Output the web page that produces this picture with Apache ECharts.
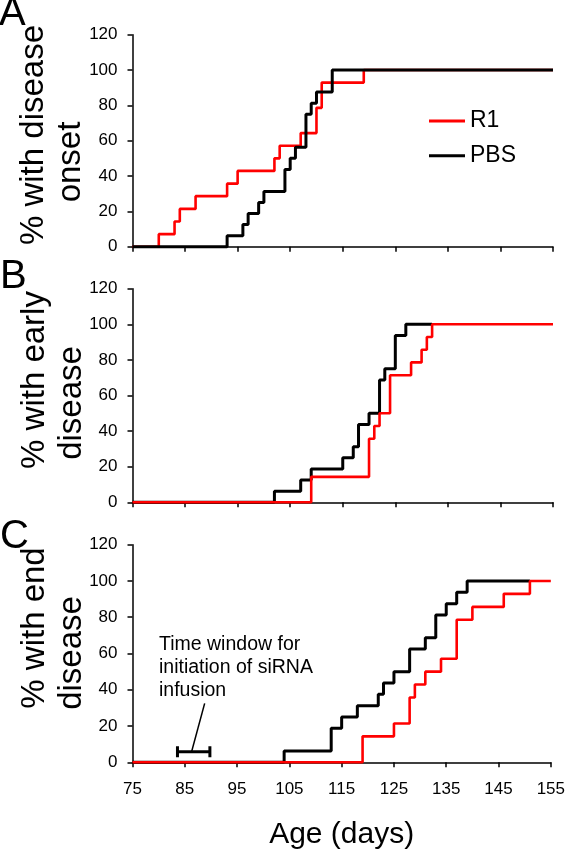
<!DOCTYPE html>
<html><head><meta charset="utf-8">
<script src="https://cdn.jsdelivr.net/npm/echarts@6/dist/echarts.min.js"></script>
<style>html,body{margin:0;padding:0;background:#fff}#c{width:568px;height:852px}</style>
</head><body><div id="c"></div>
<script>
const FONT = '"Liberation Sans", Arial, Helvetica, sans-serif';
const seriesNames = ['R1', 'PBS'];
const panelLabels = ['A', 'B', 'C'];
const yTitles = [['% with disease', 'onset'], ['% with early', 'disease'], ['% with end', 'disease']];
const xTitle = 'Age (days)';
const xMin = 75, xMax = 155, xStep = 10;
const yMin = 0, yMax = 120, yStep = 20;
const annotationText = 'Time window for\ninitiation of siRNA\ninfusion';

// Panel A: disease onset
const aR1Days  = [75, 80, 83, 84, 87, 93, 95, 102, 103, 107, 110, 111, 119, 155];
const aR1Pct   = [0, 7.1, 14.3, 21.4, 28.6, 35.7, 42.9, 50, 57.1, 64.3, 78.6, 92.9, 100, 100];
const aPBSDays = [75, 93, 96, 97, 99, 100, 104, 105, 106, 108, 109, 110, 113, 155];
const aPBSPct  = [0, 6.25, 12.5, 18.75, 25, 31.25, 43.75, 50, 56.25, 75, 81.25, 87.5, 100, 100];
// Panel B: early disease
const bR1Days  = [75, 109, 120, 121, 122, 124, 128, 130, 131, 132, 155];
const bR1Pct   = [0, 14.3, 35.7, 42.9, 50, 71.4, 78.6, 85.7, 92.9, 100, 100];
const bPBSDays = [75, 102, 107, 109, 115, 117, 118, 120, 122, 123, 125, 127, 132];
const bPBSPct  = [0, 6.25, 12.5, 18.75, 25, 31.25, 43.75, 50, 68.75, 75, 93.75, 100, 100];
// Panel C: end disease
const cR1Days  = [75, 119, 125, 128, 129, 131, 134, 137, 140, 146, 151, 155];
const cR1Pct   = [0, 14.3, 21.4, 35.7, 42.9, 50, 57.1, 78.6, 85.7, 92.9, 100, 100];
const cPBSDays = [75, 104, 113, 115, 118, 122, 123, 125, 128, 131, 133, 135, 137, 139, 151];
const cPBSPct  = [0, 6.25, 18.75, 25, 31.25, 37.5, 43.75, 50, 62.5, 68.75, 81.25, 87.5, 93.75, 100, 100];
// Infusion window annotation (days, %)
const windowStart = 83.6, windowEnd = 89.8, windowLevel = 5.8, capLow = 2.8, capHigh = 8.9;
const pointerFrom = [86.3, 5.8], pointerTo = [88.8, 32.5];

const RED = '#ff0000', BLACK = '#000000';
const pairs = (d, p) => d.map((x, i) => [x, p[i]]);

const grids = [
  {left: 132.5, right: 15, top: 34.7, height: 212},
  {left: 132.5, right: 15, top: 288.7, height: 213.6},
  {left: 132.5, right: 15, top: 544.7, height: 217.6}
];
const axLine = {show: true, onZero: false, lineStyle: {color: BLACK, width: 1.5}};
const axTick = {show: true, length: 5, inside: false, lineStyle: {color: BLACK, width: 1.5}};

const xAxes = grids.map((g, i) => ({
  type: 'value', gridIndex: i, min: xMin, max: xMax, interval: xStep,
  axisLine: axLine, axisTick: axTick, splitLine: {show: false},
  axisLabel: {show: i === 2, fontSize: 17, color: BLACK, fontFamily: FONT, margin: 19},
  name: i === 2 ? xTitle : '', nameLocation: 'middle', nameGap: 57,
  nameTextStyle: {fontSize: 30, color: BLACK, fontFamily: FONT}
}));
const yAxes = grids.map((g, i) => ({
  type: 'value', gridIndex: i, min: yMin, max: yMax, interval: yStep,
  axisLine: axLine, axisTick: axTick, splitLine: {show: false},
  axisLabel: {fontSize: 17, color: BLACK, fontFamily: FONT, margin: 15}
}));

function step(name, idx, data, color, width) {
  return {type: 'line', name, xAxisIndex: idx, yAxisIndex: idx, data, step: 'end',
    symbol: 'none', showSymbol: false, color, silent: true, clip: false,
    lineStyle: {color, width}};
}
function seg(data, width) {
  return {type: 'line', name: 'annot', xAxisIndex: 2, yAxisIndex: 2, data,
    symbol: 'none', showSymbol: false, silent: true, color: BLACK,
    lineStyle: {color: BLACK, width}};
}
const series = [
  step('R1', 0, pairs(aR1Days, aR1Pct), RED, 2.6),
  step('PBS', 0, pairs(aPBSDays, aPBSPct), BLACK, 3),
  step('PBS', 1, pairs(bPBSDays, bPBSPct), BLACK, 3),
  step('R1', 1, pairs(bR1Days, bR1Pct), RED, 2.6),
  step('PBS', 2, pairs(cPBSDays, cPBSPct), BLACK, 3),
  step('R1', 2, pairs(cR1Days, cR1Pct), RED, 2.6),
  seg([[windowStart, windowLevel], [windowEnd, windowLevel]], 3),
  seg([[windowStart, capLow], [windowStart, capHigh]], 3),
  seg([[windowEnd, capLow], [windowEnd, capHigh]], 3),
  seg([pointerFrom, pointerTo], 1.5)
];

const letterPos = [[-1, 14], [0, 277], [0, 537]];
const titlePos = [[[34, 135], [71, 162]], [[35, 380], [72, 403]], [[35, 628], [72, 653]]];
const graphic = [];
panelLabels.forEach((t, i) => graphic.push({type: 'text', x: letterPos[i][0], y: letterPos[i][1],
  style: {text: t, font: '40px ' + FONT, fill: BLACK, align: 'left', verticalAlign: 'middle'}}));
yTitles.forEach((lines, i) => lines.forEach((t, j) => graphic.push({type: 'text',
  x: titlePos[i][j][0], y: titlePos[i][j][1], rotation: Math.PI / 2,
  style: {text: t, font: '33px ' + FONT, fill: BLACK, align: 'center', verticalAlign: 'middle'}})));
graphic.push({type: 'text', x: 159, y: 633.5,
  style: {text: annotationText, font: '19.5px ' + FONT, lineHeight: 22.7, fill: BLACK, align: 'left', verticalAlign: 'top'}});

const chart = echarts.init(document.getElementById('c'), null, {renderer: 'canvas'});
chart.setOption({
  animation: false,
  backgroundColor: '#fff',
  grid: grids, xAxis: xAxes, yAxis: yAxes, series, graphic,
  legend: {data: seriesNames, orient: 'vertical', left: 429, top: 109.5, padding: 0, itemGap: 11.7,
    itemWidth: 36, itemHeight: 3, icon: 'rect', selectedMode: false,
    textStyle: {fontSize: 23, lineHeight: 23, color: BLACK, fontFamily: FONT}}
});
</script></body></html>
